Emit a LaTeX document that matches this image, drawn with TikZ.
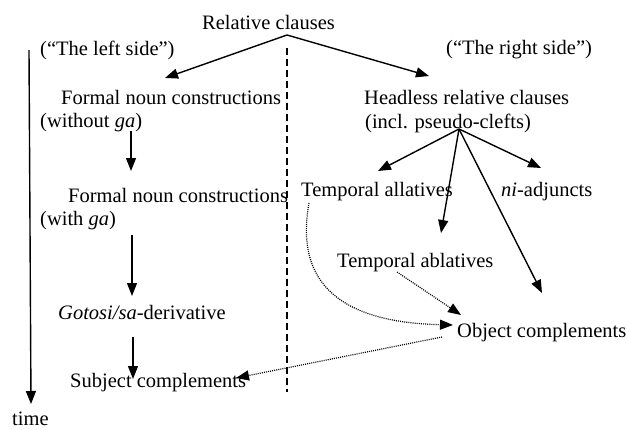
\documentclass[tikz,border=0pt]{standalone}
\usepackage{fontspec}
\setmainfont{Liberation Serif}
\usetikzlibrary{arrows.meta}
\tikzset{
  lbl/.style={inner sep=0pt, anchor=west, font=\fontsize{20.5}{24}\selectfont},
  arr/.style={line width=1.4pt, -{Triangle[length=13pt,width=10pt]}},
  darr/.style={line width=1.2pt, dash pattern=on 1pt off 1.1pt, -{Triangle[length=13pt,width=10pt]}},
  divider/.style={line width=1.4pt, dash pattern=on 7pt off 4pt}
}
\begin{document}
\begin{tikzpicture}[x=1pt,y=-1pt]
\useasboundingbox (0,0) rectangle (627,429);
% texts
\node[lbl] (rc) at (202,22) {Relative clauses};
\node[lbl] (ls) at (40,50) {(``The left side'')};
\node[lbl] (rs) at (446,50) {(``The right side'')};
\node[lbl] (fn1) at (61,97) {Formal noun constructions};
\node[lbl] (fn1b) at (40,123) {(without \textit{ga})};
\node[lbl] (fn2) at (68,195) {Formal noun constructions};
\node[lbl] (fn2b) at (40,221) {(with \textit{ga})};
\node[lbl] (gs) at (58,312) {\textit{Gotosi/sa}-derivative};
\node[lbl] (sc) at (70,383) {Subject complements};
\node[lbl] (time) at (12,419) {time};
\node[lbl] (hr) at (364,97) {Headless relative clauses};
\node[lbl] (hrb) at (365,123) {(incl. pseudo-clefts)};
\node[lbl] (ta) at (301,192) {Temporal allatives};
\node[lbl] (ni) at (501,192) {\textit{ni}-adjuncts};
\node[lbl] (tb) at (337,263) {Temporal ablatives};
\node[lbl] (oc) at (457,333) {Object complements};
% coordinates
\coordinate (top) at (287,35);
\coordinate (apex) at (459,129);
\coordinate (tTop) at (29,50);
\coordinate (tEnd) at (31,404);
\coordinate (dTop) at (287,48);
\coordinate (dEnd) at (287,392);
% divider and time
\draw[divider] (dTop) -- (dEnd);
\draw[arr] (tTop) -- (tEnd);
% main tree
\draw[arr] (top) -- (165,78);
\draw[arr] (top) -- (429,76);
\draw[arr] (131,131) -- (131,171);
\draw[arr] (132,235) -- (132,296);
\draw[arr] (133,337) -- (133,379);
\draw[arr] (apex) -- (378,171);
\draw[arr] (apex) -- (441,233);
\draw[arr] (apex) -- (541,168);
\draw[arr] (apex) -- (542,293);
% dotted
\draw[darr] (309,203) .. controls (296,275) and (330,322) .. (453,325);
\draw[darr] (397,272) -- (461,315);
\draw[darr] (442,337) -- (236,378);
\end{tikzpicture}
\end{document}
